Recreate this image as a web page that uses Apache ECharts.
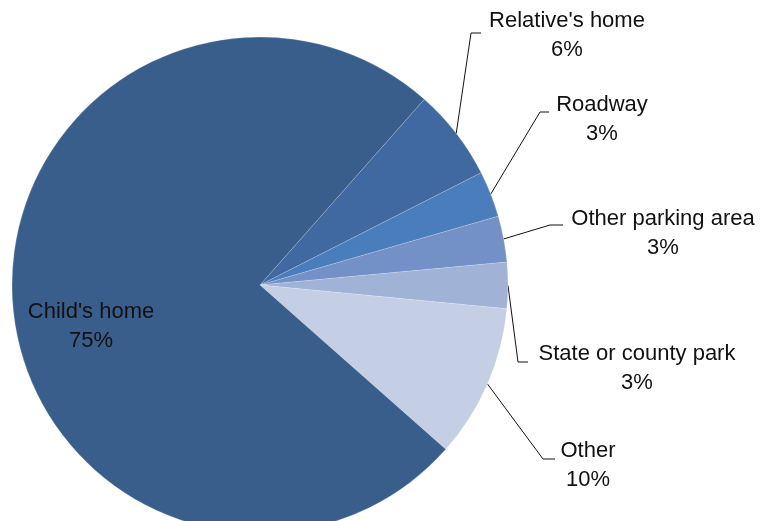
<!DOCTYPE html>
<html>
<head>
<meta charset="utf-8">
<script src="https://cdn.jsdelivr.net/npm/echarts@6/dist/echarts.min.js"></script>
<style>
  html, body { margin: 0; padding: 0; background: #fff; }
  #chart { width: 767px; height: 521px; }
</style>
</head>
<body>
<div id="chart"></div>
<script>
// slices, clockwise from the top-right boundary
const categories = ["Relative's home", "Roadway", "Other parking area", "State or county park", "Other", "Child's home"];
const shares = [6, 3, 3, 3, 10, 75];
const colors = ["#3F69A0", "#4A7DBB", "#7391C7", "#A0B2D6", "#C4CEE4", "#3A5E8B"];

// where each label sits and the elbow of its leader line
const labelSpots = {
  "Relative's home": { x: 567, y: 35, elbow: [471, 33], end: [481, 33] },
  "Roadway": { x: 602, y: 119, elbow: [540, 112], end: [549, 112] },
  "Other parking area": { x: 663, y: 233, elbow: [550, 225], end: [563, 225] },
  "State or county park": { x: 637, y: 368, elbow: [518, 362], end: [528, 362] },
  "Other": { x: 588, y: 465, elbow: [543, 459], end: [555, 459] },
  "Child's home": { x: 91, y: 326 }
};

const chart = echarts.init(document.getElementById("chart"));

const pieData = categories.map(function (name, i) {
  const item = { name: name, value: shares[i], itemStyle: { color: colors[i] } };
  if (name === "Child's home") {
    item.labelLine = { show: false };
  }
  return item;
});

chart.setOption({
  animation: false,
  series: [
    {
      type: "pie",
      center: [260, 285],
      radius: 248,
      startAngle: 48.5,
      clockwise: true,
      avoidLabelOverlap: false,
      data: pieData,
      itemStyle: {
        borderColor: "rgba(255,255,255,0.35)",
        borderWidth: 0.5
      },
      label: {
        show: true,
        position: "outside",
        formatter: "{b}\n{c}%",
        fontFamily: "Liberation Sans",
        fontSize: 22,
        lineHeight: 29,
        color: "#111",
        align: "center"
      },
      labelLine: {
        show: true,
        length: 10,
        length2: 10,
        lineStyle: { color: "#111", width: 1 }
      },
      emphasis: { disabled: true }
    }
  ]
});

chart.setOption({
  series: [
    {
      labelLayout: function (params) {
        const name = categories[params.dataIndex];
        const spot = labelSpots[name];
        const out = { x: spot.x, y: spot.y, align: "center", verticalAlign: "middle" };
        if (spot.elbow && params.labelLinePoints) {
          out.labelLinePoints = [params.labelLinePoints[0], spot.elbow, spot.end];
        }
        return out;
      }
    }
  ]
});
</script>
</body>
</html>
